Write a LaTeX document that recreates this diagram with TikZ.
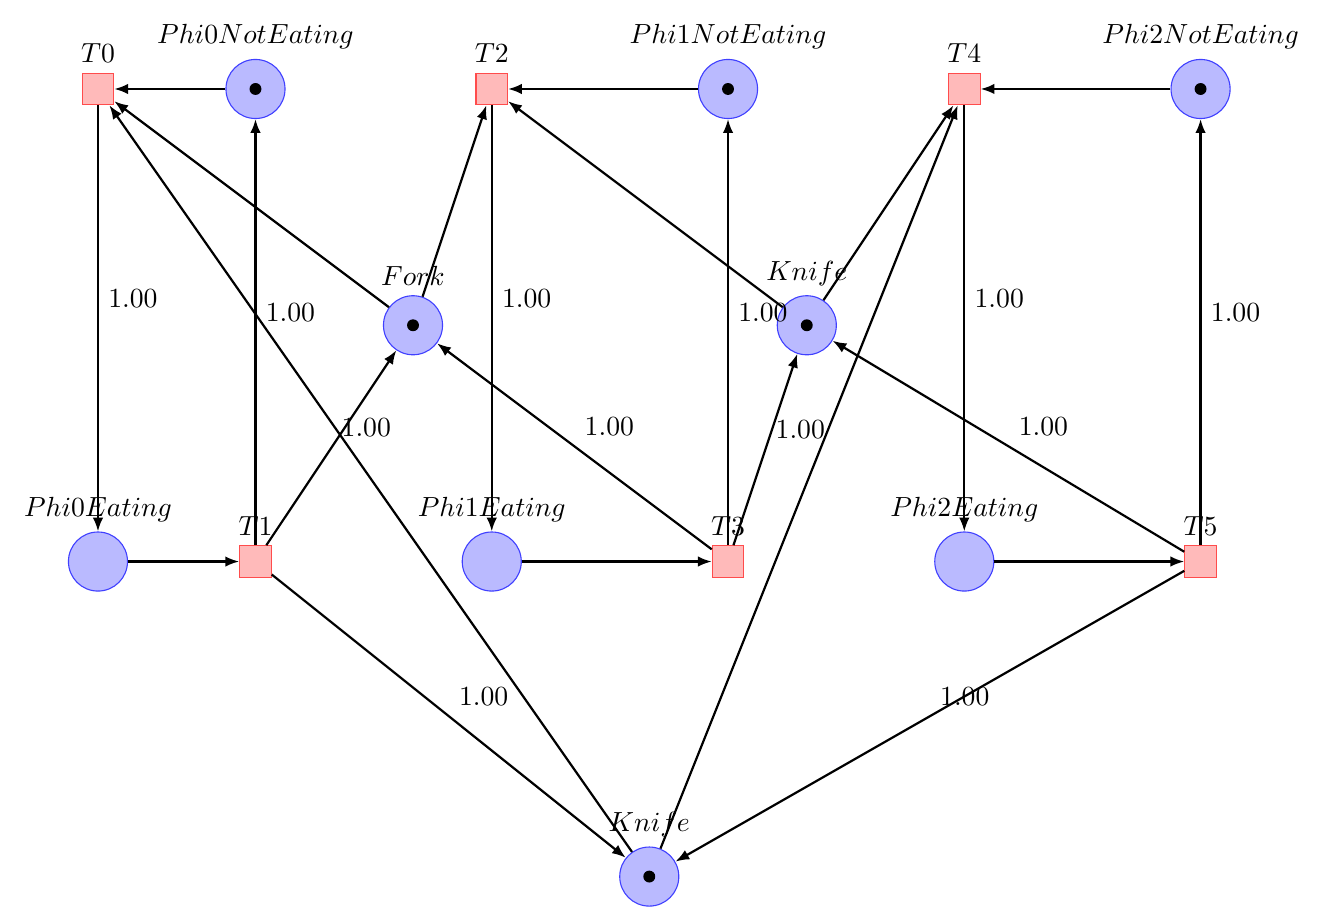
\documentclass[tikz,border=0pt]{standalone}
\usetikzlibrary{petri, arrows.meta}
\tikzset{->,>={Latex[length=5pt, width=3.8pt]},
every place/.style={fill=blue!27, draw=blue!75, minimum size=7.5mm},
every transition/.style={fill=red!27, draw=red!70, minimum size=4mm},
every token/.style={minimum size=4.3pt},
}

\begin{document}
\begin{tikzpicture}
    \useasboundingbox (-1.244,-0.597) rectangle (15.58,11.13);
    \node[transition, label=above:$T0$] (t0) at (0,10) {};
    \node[place, tokens=1, label=above:$Phi0NotEating$] (p0n) at (2,10) {};
    \node[transition, label=above:$T2$] (t2) at (5,10) {};
    \node[place, tokens=1, label=above:$Phi1NotEating$] (p1n) at (8,10) {};
    \node[transition, label=above:$T4$] (t4) at (11,10) {};
    \node[place, tokens=1, label=above:$Phi2NotEating$] (p2n) at (14,10) {};
    \node[place, tokens=1, label=above:$Fork$] (fork) at (4,7) {};
    \node[place, tokens=1, label=above:$Knife$] (knm) at (9,7) {};
    \node[place, label=above:$Phi0Eating$] (p0e) at (0,4) {};
    \node[transition, label=above:$T1$] (t1) at (2,4) {};
    \node[place, label=above:$Phi1Eating$] (p1e) at (5,4) {};
    \node[transition, label=above:$T3$] (t3) at (8,4) {};
    \node[place, label=above:$Phi2Eating$] (p2e) at (11,4) {};
    \node[transition, label=above:$T5$] (t5) at (14,4) {};
    \node[place, tokens=1, label=above:$Knife$] (knb) at (7,0) {};
    \draw[thick]
    (p0n) edge (t0)
    (fork) edge (t0)
    (knb) edge (t0)
    (t0) edge node[above right]{1.00} (p0e)
    (p0e) edge (t1)
    (t1) edge node[above right]{1.00} (p0n)
    (t1) edge node[above right]{1.00} (fork)
    (t1) edge node[above right]{1.00} (knb)
    (p1n) edge (t2)
    (fork) edge (t2)
    (knm) edge (t2)
    (t2) edge node[above right]{1.00} (p1e)
    (p1e) edge (t3)
    (t3) edge node[above right]{1.00} (p1n)
    (t3) edge node[above right]{1.00} (fork)
    (t3) edge node[above right]{1.00} (knm)
    (p2n) edge (t4)
    (knm) edge (t4)
    (knb) edge (t4)
    (t4) edge node[above right]{1.00} (p2e)
    (p2e) edge (t5)
    (t5) edge node[above right]{1.00} (p2n)
    (t5) edge node[above right]{1.00} (knm)
    (t5) edge node[above right]{1.00} (knb)
    ;
\end{tikzpicture}
\end{document}
